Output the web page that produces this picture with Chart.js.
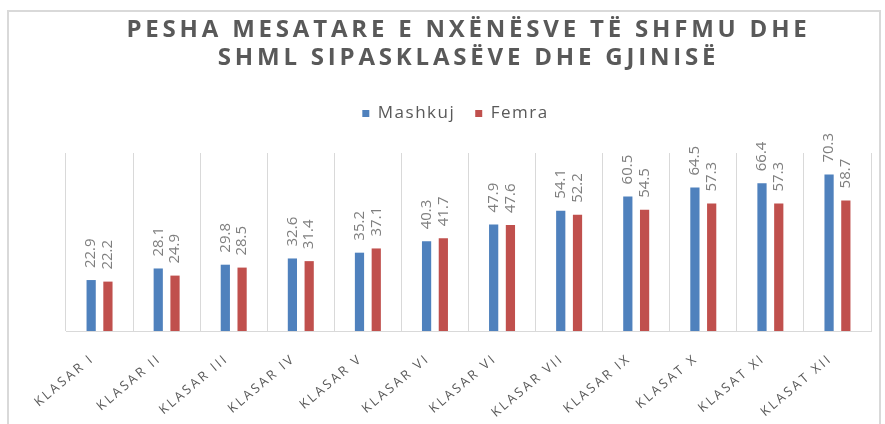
<!DOCTYPE html>
<html>
<head>
<meta charset="utf-8">
<script src="https://cdn.jsdelivr.net/npm/chart.js@4"></script>
<style>
  body { margin: 0; background: #fff; }
  #wrap { width: 885px; height: 424px; }
</style>
</head>
<body>
<div id="wrap"><canvas id="grafico" width="885" height="424"></canvas></div>
<script>
const titulli = ['PESHA MESATARE E NXËNËSVE TË SHFMU DHE', 'SHML SIPASKLASËVE DHE GJINISË'];
const klasat = ['KLASAR I', 'KLASAR II', 'KLASAR III', 'KLASAR IV', 'KLASAR V', 'KLASAR VI',
                'KLASAR VI', 'KLASAR VII', 'KLASAR IX', 'KLASAT X', 'KLASAT XI', 'KLASAT XII'];
const meshkuj = [22.9, 28.1, 29.8, 32.6, 35.2, 40.3, 47.9, 54.1, 60.5, 64.5, 66.4, 70.3];
const femra = [22.2, 24.9, 28.5, 31.4, 37.1, 41.7, 47.6, 52.2, 54.5, 57.3, 57.3, 58.7];

// wraps a method so it runs with some letter spacing (and an optional shift)
function meHapesire(obj, metoda, hapesira, dx, dy) {
    if (!obj || obj['_ls_' + metoda]) return;
    const orig = obj[metoda];
    obj[metoda] = function() {
        const c = this.ctx;
        c.save();
        c.letterSpacing = hapesira;
        if (dx || dy) c.translate(dx || 0, dy || 0);
        const r = orig.apply(this, arguments);
        c.restore();
        return r;
    };
    obj['_ls_' + metoda] = true;
}

const pluginKorniza = {
    id: 'korniza',
    beforeInit(chart) {
        meHapesire(chart.legend, 'fit', '1.5px');
        const fit = chart.legend.fit;
        chart.legend.fit = function() {
            fit.call(this);
            this.height += 21;
        };
        meHapesire(chart.titleBlock, 'draw', '3.8px');
        meHapesire(chart.legend, 'draw', '1.5px', -13);
    },
    beforeDraw(chart) {
        meHapesire(chart.scales.x, 'drawLabels', '2.5px', -7, -2);
        const ctx = chart.ctx;
        ctx.save();
        ctx.strokeStyle = '#d9d9d9';
        ctx.lineWidth = 2;
        ctx.beginPath();
        ctx.moveTo(8, 424);
        ctx.lineTo(8, 11);
        ctx.lineTo(880, 11);
        ctx.lineTo(880, 424);
        ctx.stroke();
        ctx.restore();
    }
};

const pluginVlerat = {
    id: 'vlerat',
    afterDatasetsDraw(chart) {
        const ctx = chart.ctx;
        ctx.save();
        ctx.letterSpacing = '0px';
        ctx.fillStyle = '#7f7f7f';
        ctx.font = '15px "Open Sans"';
        ctx.textAlign = 'left';
        ctx.textBaseline = 'middle';
        chart.data.datasets.forEach((ds, i) => {
            chart.getDatasetMeta(i).data.forEach((bar, j) => {
                ctx.save();
                ctx.translate(bar.x, bar.y - 12);
                ctx.rotate(-Math.PI / 2);
                ctx.fillText(ds.data[j].toFixed(1), 0, 0);
                ctx.restore();
            });
        });
        ctx.restore();
    }
};

new Chart(document.getElementById('grafico'), {
    type: 'bar',
    data: {
        labels: klasat,
        datasets: [
            { label: 'Mashkuj', data: meshkuj, backgroundColor: '#4f81bd' },
            { label: 'Femra', data: femra, backgroundColor: '#c0504d' }
        ]
    },
    options: {
        responsive: false,
        animation: false,
        categoryPercentage: 0.5,
        barPercentage: 0.55,
        layout: { padding: { top: 10, left: 66, right: 14, bottom: 0 } },
        scales: {
            x: {
                afterFit(scale) { scale.height = 93; },
                grid: { color: '#d9d9d9', drawTicks: false, offset: true },
                border: { color: '#d9d9d9' },
                ticks: {
                    autoSkip: false,
                    minRotation: 40,
                    maxRotation: 40,
                    padding: 22,
                    color: '#595959',
                    font: { family: 'Open Sans', size: 13 }
                }
            },
            y: { display: false, min: 0, max: 80 }
        },
        plugins: {
            title: {
                display: true,
                text: titulli,
                color: '#595959',
                font: { family: 'Open Sans', size: 24, weight: 'bold', lineHeight: 28 / 24 },
                padding: { top: 6, bottom: 13 }
            },
            legend: {
                position: 'top',
                labels: {
                    boxWidth: 7,
                    boxHeight: 7,
                    padding: 20,
                    color: '#595959',
                    font: { family: 'Open Sans', size: 17 }
                }
            },
            tooltip: { enabled: false }
        }
    },
    plugins: [pluginKorniza, pluginVlerat]
});
</script>
</body>
</html>
